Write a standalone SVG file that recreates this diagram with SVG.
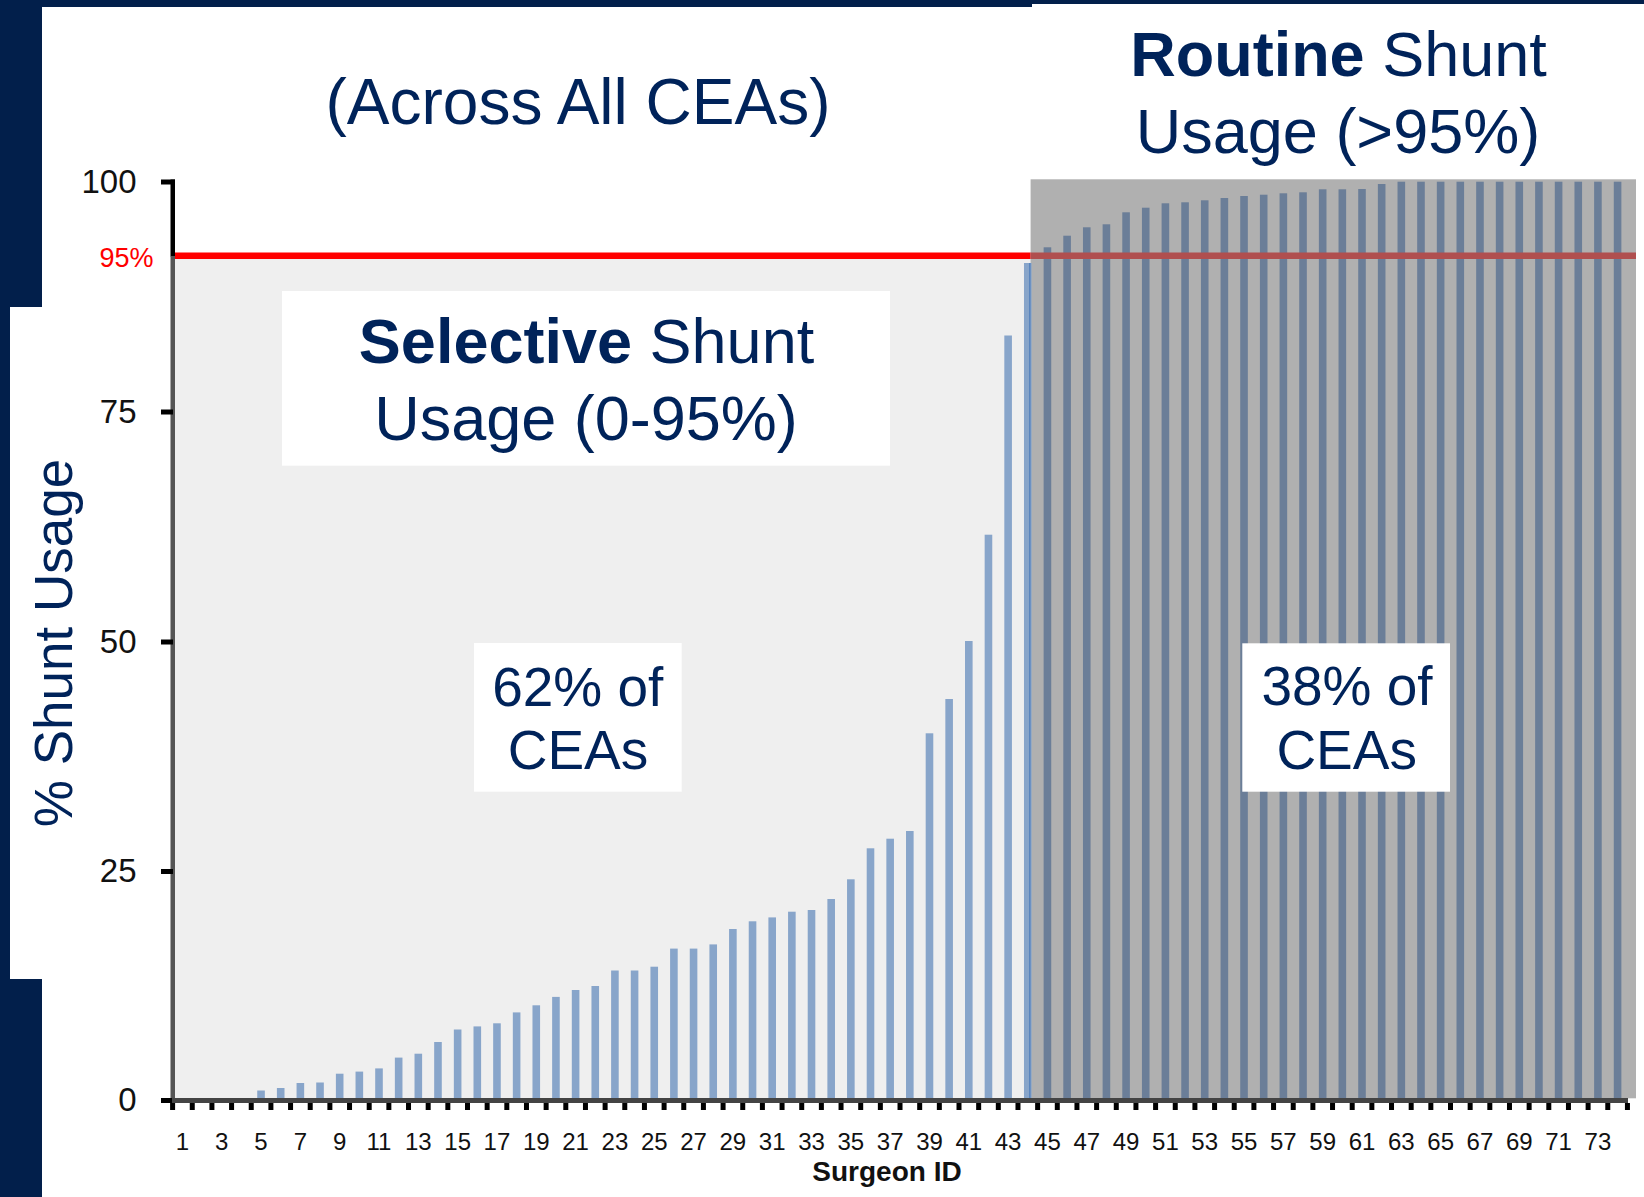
<svg xmlns="http://www.w3.org/2000/svg" width="1644" height="1197" viewBox="0 0 1644 1197">
<style>
.navy{fill:#021F4B}
.t{font-family:"Liberation Sans",Arial,sans-serif;fill:#00235A}
.b{font-weight:bold}
.ax{font-family:"Liberation Sans",Arial,sans-serif;fill:#111111}
.lb{fill:#88A5CA}
.db{fill:#6B7E98}
.box{fill:#FFFFFF}
</style>
<rect width="1644" height="1197" fill="#FFFFFF"/>
<g id="frame">
<rect class="navy" x="0" y="0" width="1032" height="7"/>
<rect class="navy" x="1032" y="0" width="612" height="4"/>
<rect class="navy" x="0" y="0" width="42" height="307"/>
<rect class="navy" x="0" y="307" width="10" height="672"/>
<rect class="navy" x="0" y="979" width="42" height="218"/>
</g>
<g id="plot-area">
<rect x="172" y="259" width="859" height="839" fill="#EFEFEF"/>
<rect id="routine-region" x="1030.6" y="179.3" width="605.4" height="919" fill="#B0B0B0"/>
</g>
<g id="bars-selective">
<rect class="lb" x="257.24" y="1090.5" width="7.6" height="7.5"/>
<rect class="lb" x="276.90" y="1088" width="7.6" height="10"/>
<rect class="lb" x="296.56" y="1083" width="7.6" height="15"/>
<rect class="lb" x="316.22" y="1082.5" width="7.6" height="15.5"/>
<rect class="lb" x="335.88" y="1073.7" width="7.6" height="24.3"/>
<rect class="lb" x="355.54" y="1071.6" width="7.6" height="26.4"/>
<rect class="lb" x="375.20" y="1068.4" width="7.6" height="29.6"/>
<rect class="lb" x="394.86" y="1057.6" width="7.6" height="40.4"/>
<rect class="lb" x="414.52" y="1053.7" width="7.6" height="44.3"/>
<rect class="lb" x="434.18" y="1042" width="7.6" height="56"/>
<rect class="lb" x="453.84" y="1029.5" width="7.6" height="68.5"/>
<rect class="lb" x="473.50" y="1026.4" width="7.6" height="71.6"/>
<rect class="lb" x="493.16" y="1023.3" width="7.6" height="74.7"/>
<rect class="lb" x="512.82" y="1012.4" width="7.6" height="85.6"/>
<rect class="lb" x="532.48" y="1005.3" width="7.6" height="92.7"/>
<rect class="lb" x="552.14" y="996.9" width="7.6" height="101.1"/>
<rect class="lb" x="571.80" y="990" width="7.6" height="108"/>
<rect class="lb" x="591.46" y="986" width="7.6" height="112"/>
<rect class="lb" x="611.12" y="970.5" width="7.6" height="127.5"/>
<rect class="lb" x="630.78" y="970.5" width="7.6" height="127.5"/>
<rect class="lb" x="650.44" y="966.7" width="7.6" height="131.3"/>
<rect class="lb" x="670.10" y="948.6" width="7.6" height="149.4"/>
<rect class="lb" x="689.76" y="948.6" width="7.6" height="149.4"/>
<rect class="lb" x="709.42" y="944.4" width="7.6" height="153.6"/>
<rect class="lb" x="729.08" y="929" width="7.6" height="169"/>
<rect class="lb" x="748.74" y="921.3" width="7.6" height="176.7"/>
<rect class="lb" x="768.40" y="917.4" width="7.6" height="180.6"/>
<rect class="lb" x="788.06" y="911.7" width="7.6" height="186.3"/>
<rect class="lb" x="807.72" y="910" width="7.6" height="188"/>
<rect class="lb" x="827.38" y="899" width="7.6" height="199"/>
<rect class="lb" x="847.04" y="879.3" width="7.6" height="218.7"/>
<rect class="lb" x="866.70" y="848.3" width="7.6" height="249.7"/>
<rect class="lb" x="886.36" y="838.7" width="7.6" height="259.3"/>
<rect class="lb" x="906.02" y="831" width="7.6" height="267"/>
<rect class="lb" x="925.68" y="733.3" width="7.6" height="364.7"/>
<rect class="lb" x="945.34" y="699" width="7.6" height="399"/>
<rect class="lb" x="965.00" y="641" width="7.6" height="457"/>
<rect class="lb" x="984.66" y="534.7" width="7.6" height="563.3"/>
<rect class="lb" x="1004.32" y="335.5" width="7.6" height="762.5"/>
<rect class="lb" x="1023.98" y="263" width="7.6" height="835"/>
<rect x="1029" y="263" width="1.6" height="835" fill="#5B86BE"/>
</g>
<g id="bars-routine">
<rect class="db" x="1043.64" y="247.3" width="7.6" height="850.7"/>
<rect class="db" x="1063.30" y="235.7" width="7.6" height="862.3"/>
<rect class="db" x="1082.96" y="227.3" width="7.6" height="870.7"/>
<rect class="db" x="1102.62" y="224.3" width="7.6" height="873.7"/>
<rect class="db" x="1122.28" y="212.3" width="7.6" height="885.7"/>
<rect class="db" x="1141.94" y="207.7" width="7.6" height="890.3"/>
<rect class="db" x="1161.60" y="203.3" width="7.6" height="894.7"/>
<rect class="db" x="1181.26" y="202.3" width="7.6" height="895.7"/>
<rect class="db" x="1200.92" y="200.3" width="7.6" height="897.7"/>
<rect class="db" x="1220.58" y="198" width="7.6" height="900"/>
<rect class="db" x="1240.24" y="196" width="7.6" height="902"/>
<rect class="db" x="1259.90" y="194.7" width="7.6" height="903.3"/>
<rect class="db" x="1279.56" y="193.3" width="7.6" height="904.7"/>
<rect class="db" x="1299.22" y="192.3" width="7.6" height="905.7"/>
<rect class="db" x="1318.88" y="189.3" width="7.6" height="908.7"/>
<rect class="db" x="1338.54" y="189.3" width="7.6" height="908.7"/>
<rect class="db" x="1358.20" y="189" width="7.6" height="909"/>
<rect class="db" x="1377.86" y="184" width="7.6" height="914"/>
<rect class="db" x="1397.52" y="181.7" width="7.6" height="916.3"/>
<rect class="db" x="1417.18" y="181.7" width="7.6" height="916.3"/>
<rect class="db" x="1436.84" y="181.7" width="7.6" height="916.3"/>
<rect class="db" x="1456.50" y="181.7" width="7.6" height="916.3"/>
<rect class="db" x="1476.16" y="181.7" width="7.6" height="916.3"/>
<rect class="db" x="1495.82" y="181.7" width="7.6" height="916.3"/>
<rect class="db" x="1515.48" y="181.7" width="7.6" height="916.3"/>
<rect class="db" x="1535.14" y="181.7" width="7.6" height="916.3"/>
<rect class="db" x="1554.80" y="181.7" width="7.6" height="916.3"/>
<rect class="db" x="1574.46" y="181.7" width="7.6" height="916.3"/>
<rect class="db" x="1594.12" y="181.7" width="7.6" height="916.3"/>
<rect class="db" x="1613.78" y="181.7" width="7.6" height="916.3"/>
</g>
<g id="threshold-95">
<rect x="172" y="252.5" width="858.6" height="6.5" fill="#FF0000"/>
<rect x="1030.6" y="252.5" width="605.4" height="6.5" fill="#B04F4F"/>
<text class="ax" x="153.5" y="267" font-size="27" text-anchor="end" style="fill:#FF0000">95%</text>
</g>
<g id="axes">
<rect x="170.5" y="179.5" width="4.5" height="77" fill="#000000"/>
<rect x="170.5" y="256" width="4.5" height="846" fill="#555555"/>
<rect x="161" y="179.5" width="14" height="5" fill="#000000"/>
<rect x="161" y="409.5" width="12" height="5" fill="#000000"/>
<rect x="161" y="639.5" width="12" height="5" fill="#000000"/>
<rect x="161" y="869" width="12" height="5" fill="#000000"/>
<rect x="161" y="1098" width="12" height="5" fill="#000000"/>
<rect x="172" y="1098" width="1456" height="5" fill="#444444"/>
<line x1="170.1" y1="1106.5" x2="1630" y2="1106.5" stroke="#000000" stroke-width="7" stroke-dasharray="5 14.66"/>
</g>
<g id="y-labels" class="ax" font-size="33" text-anchor="end">
<text x="136.5" y="192.5">100</text>
<text x="136.5" y="422.7">75</text>
<text x="136.5" y="652.5">50</text>
<text x="136.5" y="882">25</text>
<text x="136.5" y="1110.7">0</text>
</g>
<g id="x-labels" class="ax" font-size="24" text-anchor="middle">
<text x="182.40" y="1149.5">1</text>
<text x="221.72" y="1149.5">3</text>
<text x="261.04" y="1149.5">5</text>
<text x="300.36" y="1149.5">7</text>
<text x="339.68" y="1149.5">9</text>
<text x="379.00" y="1149.5">11</text>
<text x="418.32" y="1149.5">13</text>
<text x="457.64" y="1149.5">15</text>
<text x="496.96" y="1149.5">17</text>
<text x="536.28" y="1149.5">19</text>
<text x="575.60" y="1149.5">21</text>
<text x="614.92" y="1149.5">23</text>
<text x="654.24" y="1149.5">25</text>
<text x="693.56" y="1149.5">27</text>
<text x="732.88" y="1149.5">29</text>
<text x="772.20" y="1149.5">31</text>
<text x="811.52" y="1149.5">33</text>
<text x="850.84" y="1149.5">35</text>
<text x="890.16" y="1149.5">37</text>
<text x="929.48" y="1149.5">39</text>
<text x="968.80" y="1149.5">41</text>
<text x="1008.12" y="1149.5">43</text>
<text x="1047.44" y="1149.5">45</text>
<text x="1086.76" y="1149.5">47</text>
<text x="1126.08" y="1149.5">49</text>
<text x="1165.40" y="1149.5">51</text>
<text x="1204.72" y="1149.5">53</text>
<text x="1244.04" y="1149.5">55</text>
<text x="1283.36" y="1149.5">57</text>
<text x="1322.68" y="1149.5">59</text>
<text x="1362.00" y="1149.5">61</text>
<text x="1401.32" y="1149.5">63</text>
<text x="1440.64" y="1149.5">65</text>
<text x="1479.96" y="1149.5">67</text>
<text x="1519.28" y="1149.5">69</text>
<text x="1558.60" y="1149.5">71</text>
<text x="1597.92" y="1149.5">73</text>
</g>
<g id="x-title">
<text class="ax b" x="887" y="1181" font-size="28" text-anchor="middle">Surgeon ID</text>
</g>
<g id="y-title">
<text class="t" transform="translate(71.5 643) rotate(-90)" font-size="53" text-anchor="middle">% Shunt Usage</text>
</g>
<g id="title-across">
<text class="t" x="578" y="124" font-size="64" text-anchor="middle">(Across All CEAs)</text>
</g>
<g id="title-routine">
<text class="t" x="1338.5" y="76" font-size="63" text-anchor="middle"><tspan class="b">Routine</tspan> Shunt</text>
<text class="t" x="1338" y="153" font-size="63" text-anchor="middle">Usage (&gt;95%)</text>
</g>
<g id="selective-box">
<rect class="box" x="282" y="291" width="608" height="174.7"/>
<text class="t" x="586.5" y="363" font-size="63" text-anchor="middle"><tspan class="b">Selective</tspan> Shunt</text>
<text class="t" x="586" y="439.5" font-size="63" text-anchor="middle">Usage (0-95%)</text>
</g>
<g id="box-62">
<rect class="box" x="474" y="643" width="207.7" height="148.7"/>
<text class="t" x="577.8" y="706" font-size="55" text-anchor="middle">62% of</text>
<text class="t" x="578" y="769.3" font-size="55" text-anchor="middle">CEAs</text>
</g>
<g id="box-38">
<rect class="box" x="1242.3" y="643.3" width="207.7" height="148.4"/>
<text class="t" x="1347" y="705" font-size="55" text-anchor="middle">38% of</text>
<text class="t" x="1346.7" y="768.5" font-size="55" text-anchor="middle">CEAs</text>
</g>
</svg>
